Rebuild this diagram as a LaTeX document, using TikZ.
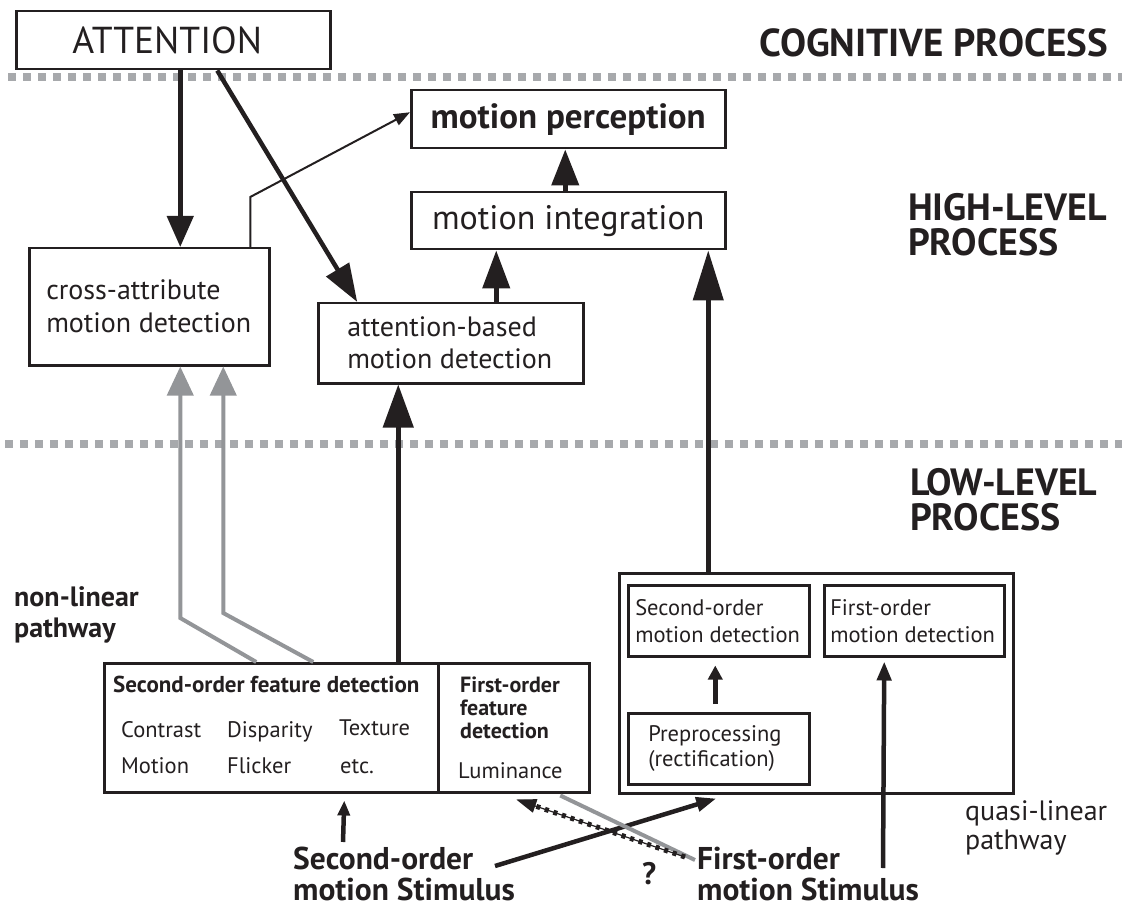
\documentclass[tikz,border=0pt]{standalone}
\usepackage{fontspec}
\setmainfont{PT Sans}
\usetikzlibrary{arrows.meta}
\definecolor{ink}{HTML}{231F20}
\definecolor{lgray}{HTML}{A7A9AC}
\definecolor{mgray}{HTML}{939598}
\newcommand{\fsz}[2]{\fontsize{#1}{#2}\selectfont}
\begin{document}
\begin{tikzpicture}[x=1pt,y=-1pt,
  box/.style={draw=ink, line width=2.5pt, rectangle, inner ysep=0pt, anchor=north west, text=ink},
  lbl/.style={inner sep=0pt, anchor=base west, text=ink, align=left},
  sep line/.style={draw=lgray, line width=8pt, dash pattern=on 8pt off 7pt},
  bigarrow/.style={draw=ink, line width=4.5pt, -{Triangle[length=36pt,width=27pt]}},
  midarrow/.style={draw=ink, line width=4.5pt, -{Triangle[length=19pt,width=14pt]}},
  grayarrow/.style={draw=mgray, line width=4pt, line join=miter, -{Triangle[length=29pt,width=26pt]}},
  thinarrow/.style={draw=ink, line width=2pt, -{Triangle[length=16pt,width=12pt]}},
]
\useasboundingbox (0,0) rectangle (1122,909);

% separators
\draw[sep line] (8,77) -- (1122,77);
\draw[sep line] (5,444) -- (1122,444);

% level labels (base anchor = baseline of the last line)
\node[lbl, anchor=base east, font=\bfseries\fsz{39}{33}] (cog) at (1108,57) {COGNITIVE PROCESS};
\node[lbl, font=\bfseries\fsz{38}{35}] (high) at (908,256) {HIGH-LEVEL\\PROCESS};
\node[lbl, font=\bfseries\fsz{38}{35}] (low) at (910,530) {LOW-LEVEL\\PROCESS};

% top boxes
\node[box, minimum width=314pt, minimum height=58pt, inner xsep=0pt, font=\fsz{37.5}{40}] (att) at (15,10) {\hspace*{-12pt}ATTENTION};
\node[box, minimum width=314pt, minimum height=58pt, inner xsep=0pt, font=\bfseries\fsz{35}{38}] (perc) at (410,89) {motion perception};
\node[box, minimum width=314pt, minimum height=57pt, inner xsep=0pt, font=\fsz{34}{38}] (integ) at (410,191) {motion integration};
\node[box, minimum height=117pt, inner xsep=17pt, text width=206pt, align=flush left, font=\fsz{28}{33}] (cross) at (28,247) {cross-attribute\\motion detection};
\node[box, minimum height=80pt, inner xsep=29pt, text width=207pt, align=flush left, font=\fsz{28}{32}] (attb) at (317,302) {attention-based\\motion detection};

% quasi-linear pathway
\node[box, minimum width=394pt, minimum height=220pt, inner xsep=0pt] (quasi) at (618,572) {};
\node[box, minimum height=71pt, inner xsep=7pt, text width=167pt, align=flush left, font=\fsz{22.5}{27}] (smd) at (627,584) {Second-order\\motion detection};
\node[box, minimum height=71pt, inner xsep=6pt, text width=168pt, align=flush left, font=\fsz{22.5}{27}] (fmd) at (823,584) {First-order\\motion detection};
\node[box, minimum height=71pt, inner xsep=20pt, text width=141pt, align=flush left, font=\fsz{22.5}{25}] (pre) at (627,712) {Preprocessing\\(rectification)};

% feature detection
\node[box, minimum width=334pt, minimum height=129pt, inner xsep=0pt] (sfeat) at (103,662) {};
\node[box, minimum width=151pt, minimum height=129pt, inner xsep=0pt] (ffeat) at (437,662) {};
\node[lbl, font=\bfseries\fsz{23}{24}] (sftitle) at (113,692) {Second-order feature detection};
\node[lbl, font=\fsz{22.5}{24}] (fcon) at (121,737) {Contrast};
\node[lbl, font=\fsz{22.5}{24}] (fdis) at (227,737) {Disparity};
\node[lbl, font=\fsz{22.5}{24}] (ftex) at (339,735) {Texture};
\node[lbl, font=\fsz{22.5}{24}] (fmot) at (121,773) {Motion};
\node[lbl, font=\fsz{22.5}{24}] (ffli) at (227,773) {Flicker};
\node[lbl, font=\fsz{22.5}{24}] (fetc) at (340,773) {etc.};
\node[lbl, font=\bfseries\fsz{22}{23}] (fftitle) at (460,738) {First-order\\feature\\detection};
\node[lbl, font=\fsz{22.5}{24}] (flum) at (458,778) {Luminance};

% pathway labels and stimuli
\node[lbl, font=\bfseries\fsz{28}{31}] (nonlin) at (14,637) {non-linear\\pathway};
\node[lbl, font=\fsz{28}{29}] (quasil) at (965,849) {quasi-linear\\pathway};
\node[lbl, font=\bfseries\fsz{31.5}{31}] (stim2) at (293,900) {Second-order\\motion Stimulus};
\node[lbl, font=\bfseries\fsz{31.5}{31}] (stim1) at (697,900) {First-order\\motion Stimulus};
\node[lbl, font=\bfseries\fsz{31}{31}] (qm) at (642,884) {?};

% free ends of the stimulus connectors
\coordinate (s2up) at (343,842);
\coordinate (s2q) at (495,866);
\coordinate (s1up) at (883,868);
\coordinate (s1g) at (695,860);
\coordinate (s1d) at (685,857);

% connectors, top part
\draw[bigarrow, -{Triangle[length=31pt,width=26pt]}] ([xshift=7pt]att.south) -- ([xshift=31pt]cross.north);
\draw[bigarrow, -{Triangle[length=38pt,width=26pt]}] ([xshift=44pt]att.south) -- ([xshift=-93.5pt]attb.north);
\draw[thinarrow] ([xshift=101pt]cross.north) -- ++(0,-50) -- ([yshift=7pt]perc.west);
\draw[bigarrow] ([xshift=-3pt]integ.north) -- ([xshift=-3pt]perc.south);
\draw[bigarrow, -{Triangle[length=38pt,width=27pt]}] ([xshift=45.5pt]attb.north) -- ([xshift=-72pt]integ.south);
\draw[bigarrow, -{Triangle[length=50pt,width=30pt]}] ([xshift=-108pt]quasi.north) -- ([xshift=140pt]integ.south);
\draw[bigarrow, -{Triangle[length=43pt,width=30pt]}] ([xshift=127pt]sfeat.north) -- ([xshift=-52.5pt]attb.south);

% gray non-linear connectors
\draw[grayarrow] ([xshift=-15pt]sfeat.north) -- ++(-76,-44) -- ([xshift=31pt]cross.south);
\draw[grayarrow] ([xshift=42pt]sfeat.north) -- ++(-90,-49) -- ([xshift=74pt]cross.south);

% low-level connectors
\draw[midarrow, -{Triangle[length=14pt,width=14pt]}] ([xshift=-3.5pt,yshift=8pt]pre.north) -- ([xshift=-3.5pt,yshift=-8pt]smd.south);
\draw[midarrow] (s1up) -- ([xshift=-30pt,yshift=-4pt]fmd.south);
\draw[midarrow, -{Triangle[length=15pt,width=12pt]}] (s2up) -- ([xshift=73pt,yshift=-7pt]sfeat.south);
\draw[midarrow, -{Triangle[length=20pt,width=14pt]}] (s2q) -- ([xshift=-100pt,yshift=-4pt]quasi.south);
\draw[draw=mgray, line width=4pt] (s1g) -- ([xshift=46.5pt,yshift=-2pt]ffeat.south);
\draw[draw=ink, line width=1.2pt, -{Triangle[length=20pt,width=14pt]},
      postaction={draw=ink, arrows=-, line width=5pt, dash pattern=on 4pt off 5pt, shorten >=16pt}]
      (s1d) -- ([xshift=2.5pt,yshift=-6pt]ffeat.south);
\end{tikzpicture}
\end{document}
